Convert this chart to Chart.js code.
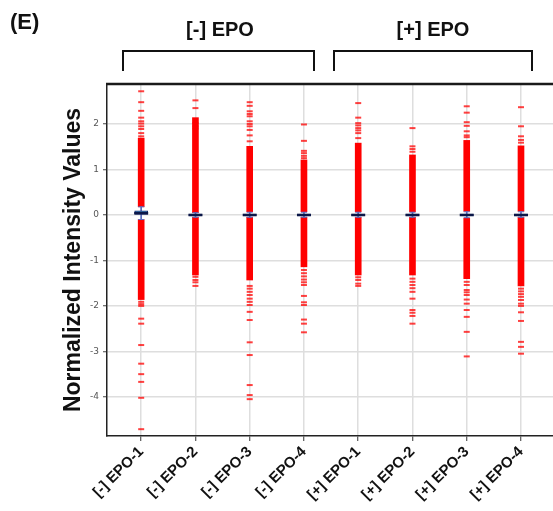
<!DOCTYPE html>
<html>
<head>
<meta charset="utf-8">
<script src="https://cdn.jsdelivr.net/npm/chart.js@4.4.1/dist/chart.umd.min.js"></script>
<style>
  html, body { margin: 0; padding: 0; background: #fff; }
  #wrap { position: relative; width: 553px; height: 511px; overflow: hidden; }
  canvas { position: absolute; left: 0; top: 0; }
  .lbl { position: absolute; font-family: "Liberation Sans", Arial, sans-serif; font-weight: bold; color: #111; white-space: nowrap; }
</style>
</head>
<body>
<div id="wrap">
  <canvas id="c" width="553" height="511"></canvas>
  <div class="lbl" style="left:10px; top:9px; font-size:22px; line-height:26px;">(E)</div>
  <div class="lbl" style="left:160px; top:18px; width:120px; text-align:center; font-size:20px; line-height:22px;">[-] EPO</div>
  <div class="lbl" style="left:373px; top:18px; width:120px; text-align:center; font-size:20px; line-height:22px;">[+] EPO</div>
</div>
<script>
// ---- Data ----
const categories = ['[-] EPO-1', '[-] EPO-2', '[-] EPO-3', '[-] EPO-4', '[+] EPO-1', '[+] EPO-2', '[+] EPO-3', '[+] EPO-4'];
const yTicks = [-4, -3, -2, -1, 0, 1, 2];

// dense (continuous-looking) part of each strip, split around the box
const upperStart = [0.18, 0.05, 0.07, 0.07, 0.07, 0.07, 0.08, 0.08];
const upperEnd   = [1.69, 2.14, 1.51, 1.21, 1.58, 1.32, 1.64, 1.52];
const lowerStart = [-0.10, -0.05, -0.05, -0.05, -0.05, -0.05, -0.07, -0.05];
const lowerEnd   = [-1.86, -1.32, -1.43, -1.14, -1.32, -1.32, -1.40, -1.56];

// individual sparse values
const sparse1 = [2.72, 2.48, 2.29, 2.14, 2.06, 2.01, 1.95, 1.89, 1.80, 1.73, -1.91, -1.96, -2.00, -2.28, -2.39, -2.86, -3.27, -3.50, -3.67, -4.02, -4.71];
const sparse2 = [2.52, 2.35, 2.02, 1.95, 1.90, -1.36, -1.43, -1.48, -1.56];
const sparse3 = [2.48, 2.40, 2.28, 2.22, 2.17, 2.06, 2.00, 1.95, 1.87, 1.75, 1.62, -1.56, -1.62, -1.69, -1.76, -1.84, -1.91, -1.98, -2.13, -2.31, -2.80, -3.08, -3.74, -3.96, -4.05];
const sparse4 = [1.99, 1.63, 1.41, 1.36, 1.30, 1.25, -1.21, -1.28, -1.35, -1.42, -1.48, -1.54, -1.78, -1.92, -1.98, -2.30, -2.39, -2.58];
const sparse5 = [2.46, 2.14, 2.02, 1.97, 1.91, 1.86, 1.80, 1.69, -1.37, -1.43, -1.51, -1.56];
const sparse6 = [1.91, 1.51, 1.45, 1.39, -1.40, -1.47, -1.54, -1.61, -1.69, -1.84, -2.09, -2.15, -2.22, -2.39];
const sparse7 = [2.39, 2.25, 2.04, 1.96, 1.84, 1.75, 1.71, -1.47, -1.54, -1.65, -1.70, -1.76, -1.86, -1.95, -2.09, -2.24, -2.57, -3.11];
const sparse8 = [2.37, 1.95, 1.73, 1.65, 1.59, -1.62, -1.68, -1.74, -1.80, -1.87, -1.95, -2.00, -2.14, -2.33, -2.79, -2.90, -3.05];
const sparseAll = [sparse1, sparse2, sparse3, sparse4, sparse5, sparse6, sparse7, sparse8];

// box summary near zero
const boxLow     = [0.01, -0.02, -0.02, -0.02, -0.02, -0.02, -0.02, -0.02];
const boxHigh    = [0.09, 0.02, 0.02, 0.02, 0.02, 0.02, 0.02, 0.02];
const whiskerLow = [-0.10, -0.05, -0.05, -0.05, -0.05, -0.05, -0.06, -0.05];
const whiskerHigh= [0.18, 0.05, 0.06, 0.06, 0.06, 0.06, 0.07, 0.07];
const medians    = [0.04, 0.00, 0.00, 0.00, 0.00, 0.00, 0.00, 0.00];

// ---- Build datasets ----
const xs = categories.map((c, i) => i + 1);
const rangePts = (a, b) => xs.map((x, i) => ({ x: x, y: [a[i], b[i]] }));
const sparsePts = sparseAll.flatMap((arr, i) => arr.map(v => ({ x: i + 1, y: v })));
const medianPts = xs.map((x, i) => ({ x: x, y: medians[i] }));
const capPts = xs.flatMap((x, i) => [{ x: x, y: whiskerLow[i] }, { x: x, y: whiskerHigh[i] }]);

const RED = '#ff0000';

const decor = {
  id: 'decor',
  afterDraw(chart) {
    const { ctx, chartArea } = chart;
    ctx.save();
    // top border of the plot
    ctx.strokeStyle = '#1a1a1a';
    ctx.lineWidth = 2.5;
    ctx.beginPath();
    ctx.moveTo(chartArea.left - 1, chartArea.top);
    ctx.lineTo(chart.width, chartArea.top);
    ctx.stroke();
    // group brackets
    ctx.lineWidth = 2;
    ctx.strokeStyle = '#111';
    const brackets = [[123, 314], [334, 532]];
    brackets.forEach(([a, b]) => {
      ctx.beginPath();
      ctx.moveTo(a, 71);
      ctx.lineTo(a, 51);
      ctx.lineTo(b, 51);
      ctx.lineTo(b, 71);
      ctx.stroke();
    });
    ctx.restore();
  }
};

new Chart(document.getElementById('c'), {
  type: 'bar',
  data: {
    datasets: [
      { type: 'bar', data: rangePts(upperStart, upperEnd), backgroundColor: RED, barThickness: 6, grouped: false, order: 6 },
      { type: 'bar', data: rangePts(lowerStart, lowerEnd), backgroundColor: RED, barThickness: 6, grouped: false, order: 6 },
      { type: 'scatter', data: sparsePts, pointStyle: 'line', pointRadius: 3, borderWidth: 2, borderColor: 'rgba(255,0,0,0.75)', backgroundColor: 'rgba(255,0,0,0.75)', order: 5 },
      { type: 'bar', data: rangePts(whiskerLow, whiskerHigh), backgroundColor: '#5b6cc0', barThickness: 1, grouped: false, order: 4 },
      { type: 'scatter', data: capPts, pointStyle: 'line', pointRadius: 3, borderWidth: 1, borderColor: '#5b6cc0', order: 3 },
      { type: 'bar', data: rangePts(boxLow, boxHigh), backgroundColor: '#4aa3d8', borderColor: '#1b2a6b', borderWidth: 1, borderSkipped: false, barThickness: 13, grouped: false, order: 2 },
      { type: 'scatter', data: medianPts, pointStyle: 'line', pointRadius: 7, borderWidth: 2.5, borderColor: '#0b1748', order: 1 }
    ]
  },
  options: {
    responsive: false,
    animation: false,
    events: [],
    layout: { autoPadding: false, padding: { top: 84, left: 0, right: 0, bottom: 0 } },
    plugins: { legend: { display: false }, tooltip: { enabled: false } },
    scales: {
      x: {
        type: 'linear',
        offset: false,
        min: 0.37, max: 8.59,
        afterBuildTicks(scale) { scale.ticks = xs.map(v => ({ value: v })); },
        afterFit(scale) { scale.height = 75; scale.paddingRight = 0; },
        grid: { offset: false, color: '#dedede', lineWidth: 1.5, tickLength: 5, tickColor: '#333', tickWidth: 1 },
        border: { color: '#222', width: 1.5 },
        ticks: {
          autoSkip: false, maxRotation: 45, minRotation: 45, padding: 2,
          color: '#111',
          font: { family: 'Liberation Sans', weight: 'bold', size: 15 },
          callback: (v) => categories[Math.round(v) - 1] || ''
        }
      },
      y: {
        type: 'linear',
        min: -4.86, max: 2.88,
        afterBuildTicks(scale) { scale.ticks = yTicks.map(v => ({ value: v })); },
        afterFit(scale) { scale.width = 107; },
        grid: { color: '#dedede', lineWidth: 1.5, tickLength: 4, tickColor: '#444', tickWidth: 1 },
        border: { color: '#222', width: 1.5 },
        ticks: { color: '#555', padding: 4, font: { family: 'DejaVu Sans', size: 9 } },
        title: {
          display: true, text: 'Normalized Intensity Values', color: '#111',
          font: { family: 'Liberation Sans', weight: 'bold', size: 23, lineHeight: 1.2 },
          padding: { top: 60, bottom: 0 }
        }
      }
    }
  },
  plugins: [decor]
});
</script>
</body>
</html>
